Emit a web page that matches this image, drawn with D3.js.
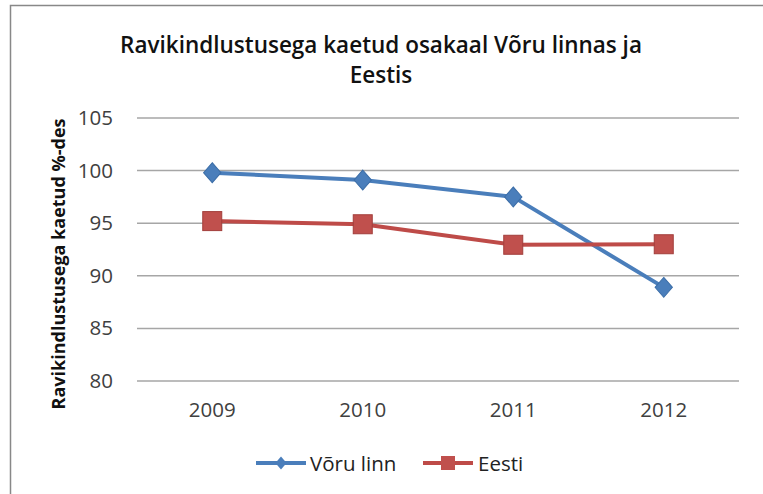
<!DOCTYPE html>
<html><head><meta charset="utf-8">
<script src="https://cdn.jsdelivr.net/npm/d3@7"></script>
<style>body{margin:0;background:#fff}svg{display:block}text{font-family:"Open Sans","Noto Sans",sans-serif}</style>
</head><body>
<svg id="c" width="763" height="494"></svg>
<script>
const years = ["2009","2010","2011","2012"];
const voru = [99.8, 99.1, 97.5, 88.9];
const eesti = [95.2, 94.9, 92.95, 93.0];
const yTicks = [80,85,90,95,100,105];
const seriesNames = ["Võru linn","Eesti"];

const svg = d3.select("#c");
svg.append("rect").attr("x",10.5).attr("y",5.5).attr("width",800).attr("height",600)
  .attr("fill","#fff").attr("stroke","#888").attr("stroke-width",1.5);

const x = d3.scaleBand().domain(years).range([137,739]);
const y = d3.scaleLinear().domain([80,105]).range([381,118]);

// gridlines
svg.append("g").selectAll("line").data(yTicks).join("line")
  .attr("x1",137).attr("x2",739).attr("y1",d=>y(d)).attr("y2",d=>y(d))
  .attr("stroke","#a6a6a6").attr("stroke-width",1.5);

// y axis labels
const ya = svg.append("g").attr("transform","translate(137,0)")
  .call(d3.axisLeft(y).tickValues(yTicks).tickSize(0).tickPadding(24));
ya.select(".domain").remove();
ya.selectAll("text").attr("font-size",20.5).attr("fill","#404040").attr("font-family","Open Sans, sans-serif");

// x axis labels
const xa = svg.append("g").attr("transform","translate(0,400)")
  .call(d3.axisBottom(x).tickSize(0).tickPadding(2));
xa.select(".domain").remove();
xa.selectAll("text").attr("font-size",20.5).attr("fill","#404040").attr("font-family","Open Sans, sans-serif");

const cx = d => x(d) + x.bandwidth()/2;

// lines
const line = d3.line().x((d,i)=>cx(years[i])).y(d=>y(d));
svg.append("path").datum(voru).attr("d",line).attr("fill","none").attr("stroke","#4A7EBB").attr("stroke-width",4).attr("stroke-linejoin","round");
svg.append("path").datum(eesti).attr("d",line).attr("fill","none").attr("stroke","#BE4B48").attr("stroke-width",4).attr("stroke-linejoin","round");

const diamond = d3.symbol().type(d3.symbolDiamond2).size(190);
svg.append("g").selectAll("path").data(voru).join("path")
  .attr("d",diamond).attr("transform",(d,i)=>`translate(${cx(years[i])},${y(d)}) scale(1,1.15)`)
  .attr("fill","#4A7EBB").attr("stroke","#3c6ea8").attr("stroke-width",1);
svg.append("g").selectAll("rect").data(eesti).join("rect")
  .attr("x",(d,i)=>cx(years[i])-9.5).attr("y",d=>y(d)-9.5).attr("width",19).attr("height",19)
  .attr("fill","#C0504D").attr("stroke","#A23E3B").attr("stroke-width",1);

// title
svg.append("text").attr("x",381).attr("y",53).attr("text-anchor","middle").attr("font-size",22.5).attr("font-weight",600).attr("fill","#111")
  .text("Ravikindlustusega kaetud osakaal Võru linnas ja");
svg.append("text").attr("x",381).attr("y",83).attr("text-anchor","middle").attr("font-size",22.5).attr("font-weight",600).attr("fill","#111")
  .text("Eestis");

// y title
svg.append("text").attr("transform","translate(65,264) rotate(-90)").attr("text-anchor","middle")
  .attr("font-size",18).attr("font-weight",700).attr("fill","#111").text("Ravikindlustusega kaetud %-des");

// legend
const lg = svg.append("g");
lg.append("line").attr("x1",256).attr("x2",306).attr("y1",463).attr("y2",463).attr("stroke","#4A7EBB").attr("stroke-width",4);
lg.append("path").attr("d",d3.symbol().type(d3.symbolDiamond2).size(80)).attr("transform","translate(281,463) scale(1,1.15)").attr("fill","#4A7EBB");
lg.append("text").attr("x",310).attr("y",471).attr("font-size",20.5).attr("fill","#222").text(seriesNames[0]);
lg.append("line").attr("x1",423).attr("x2",473).attr("y1",463).attr("y2",463).attr("stroke","#BE4B48").attr("stroke-width",4);
lg.append("rect").attr("x",441).attr("y",456).attr("width",14).attr("height",14).attr("fill","#C0504D");
lg.append("text").attr("x",478).attr("y",471).attr("font-size",20.5).attr("fill","#222").text(seriesNames[1]);
</script>
</body></html>
